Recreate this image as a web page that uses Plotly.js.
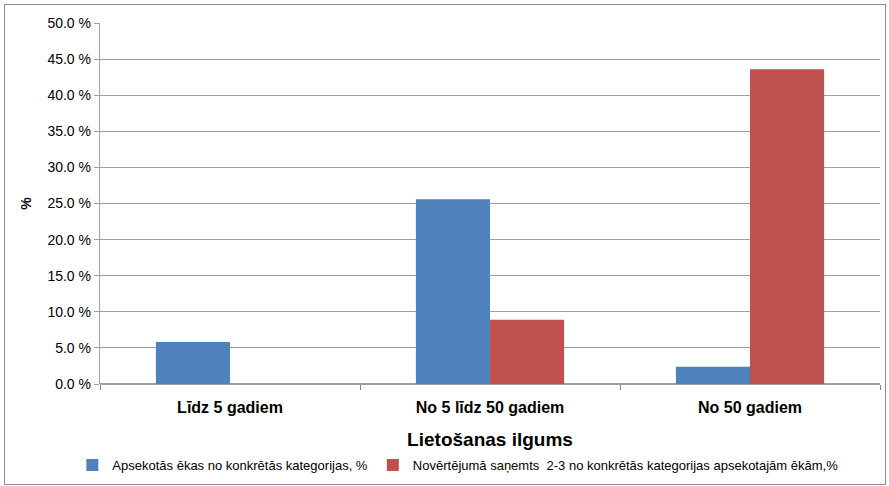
<!DOCTYPE html>
<html>
<head>
<meta charset="utf-8">
<script src="https://cdn.plot.ly/plotly-3.0.1.min.js"></script>
<style>
html,body{margin:0;padding:0;background:#fff;}
#wrap{position:relative;width:889px;height:486px;}
#chart{width:889px;height:486px;}
#frame{position:absolute;left:4px;top:4px;width:880px;height:479px;border:1px solid #8c8c8c;pointer-events:none;}
</style>
</head>
<body>
<div id="wrap"><div id="chart"></div><div id="frame"></div></div>
<script>
const categories = ["Līdz 5 gadiem", "No 5 līdz 50 gadiem", "No 50 gadiem"];
const seriesNames = ["Apsekotās ēkas no konkrētās kategorijas, %", "Novērtējumā saņemts  2-3 no konkrētās kategorijas apsekotajām ēkām,%"];
const surveyed = [5.8, 25.6, 2.4];
const rated23 = [0, 8.9, 43.6];
const yTicks = [0, 5, 10, 15, 20, 25, 30, 35, 40, 45, 50];

const FONT = '"Liberation Sans", Arial, sans-serif';

const traces = [
  {type:'bar', x:categories, y:surveyed, name:seriesNames[0], marker:{color:'#4f81bd'}},
  {type:'bar', x:categories, y:rated23, name:seriesNames[1], marker:{color:'#c0504d'}}
];

const layout = {
  width:889, height:486,
  margin:{l:100, r:9, t:23, b:102},
  paper_bgcolor:'#fff', plot_bgcolor:'#fff',
  font:{family:FONT, color:'#000', size:13},
  barmode:'group', bargap:0.43, bargroupgap:0,
  showlegend:true,
  legend:{orientation:'h', xref:'container', yref:'container', x:0.515, xanchor:'center', y:0.043, yanchor:'middle',
          font:{family:FONT, size:13}, itemwidth:30, tracegroupgap:0},
  xaxis:{
    type:'category', showgrid:false, showline:false, zeroline:false,
    ticks:'outside', tickson:'boundaries', ticklen:5, tickcolor:'#888',
    ticklabelstandoff:12,
    tickfont:{family:FONT, size:16, color:'#000', weight:'bold'},
    title:{text:'<b>Lietošanas ilgums</b>', font:{family:FONT, size:19, color:'#000'}, standoff:24}
  },
  yaxis:{
    range:[0,50], tickvals:yTicks, ticktext:yTicks.map(v=>v.toFixed(1)+' %'),
    showgrid:true, gridcolor:'#a0a0a0', gridwidth:1.2,
    showline:true, linecolor:'#a0a0a0', linewidth:1.2, zeroline:true, zerolinecolor:'#a0a0a0', zerolinewidth:1.2,
    ticks:'outside', ticklen:5, tickcolor:'#a0a0a0',
    tickfont:{family:FONT, size:14, color:'#000'},
    title:{text:'<b>%</b>', font:{family:FONT, size:14, color:'#000'}, standoff:12}
  }
};

Plotly.newPlot('chart', traces, layout, {displayModeBar:false, staticPlot:true});
</script>
</body>
</html>
